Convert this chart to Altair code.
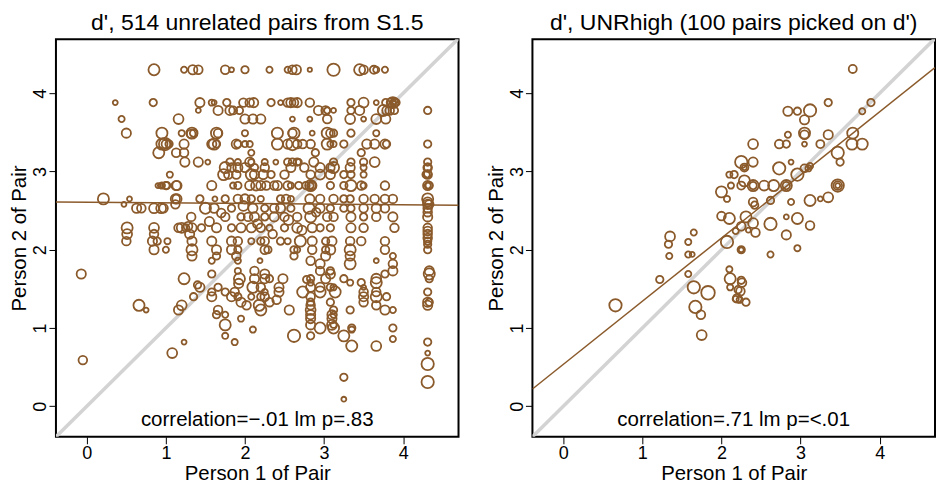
import altair as alt
import pandas as pd

COLOR = "#8B5A2B"
FONT = "Liberation Sans"
X_DOMAIN = [-0.39, 4.70]
Y_DOMAIN = [-0.39, 4.69]
TICKS = [0, 1, 2, 3, 4]
W, H = 403, 398

# ---------------- left panel: 514 unrelated pairs (read row by row) ----------------
LEFT_ROW_Y = [4.30, 3.88, 3.78, 3.67, 3.49, 3.35, 3.24, 3.12, 3.05, 2.96, 2.82, 2.65, 2.58, 2.53,
              2.42, 2.28, 2.20, 2.11, 2.00, 1.92, 1.86, 1.82, 1.73, 1.69, 1.63, 1.58, 1.52, 1.46,
              1.40, 1.33, 1.29, 1.23, 1.17, 1.12, 1.04, 1.00, 0.98, 0.90, 0.86, 0.82, 0.77, 0.68,
              0.59, 0.54, 0.37, 0.31, 0.09]
LEFT_ROW_X = [
    [0.85, 1.23, 1.34, 1.41, 1.75, 1.83, 2.00, 2.31, 2.54, 2.60, 2.65, 2.82, 3.12, 3.45, 3.50, 3.63, 3.66, 3.77],
    [0.36, 0.84, 1.43, 1.58, 1.61, 1.77, 1.98, 2.06, 2.11, 2.33, 2.45, 2.54, 2.58, 2.62, 2.66, 2.82, 3.34, 3.50, 3.66, 3.78, 3.85, 3.87, 3.89, 3.91],
    [1.41, 1.66, 1.81, 1.85, 1.93, 2.93, 3.02, 3.04, 3.12, 3.34, 3.45, 3.75, 3.79, 3.83, 3.89, 4.31],
    [0.44, 1.16, 2.00, 2.10, 2.20, 2.60, 2.82, 3.04, 3.33, 3.50, 3.66, 3.78],
    [0.50, 0.95, 1.20, 1.33, 1.35, 1.64, 1.66, 2.00, 2.41, 2.60, 2.62, 2.85, 3.04, 3.08, 3.12, 3.34, 3.66],
    [0.95, 1.00, 1.04, 1.23, 1.58, 1.61, 1.64, 1.89, 1.91, 2.00, 2.06, 2.41, 2.54, 2.60, 2.66, 2.73, 2.83, 3.04, 3.08, 3.12, 3.25, 3.54, 3.64, 3.77, 3.79, 4.31],
    [0.91, 1.13, 1.23, 2.08, 2.89, 3.47],
    [1.24, 1.41, 1.53, 1.81, 1.91, 2.06, 2.08, 2.25, 2.39, 2.54, 2.60, 2.66, 2.68, 2.87, 3.12, 3.34, 3.50, 3.64, 4.31],
    [1.75, 1.83, 1.91, 2.00, 2.12, 2.25, 2.58, 2.75, 2.95, 3.08, 3.12, 3.33, 3.50, 4.31],
    [1.05, 1.73, 1.79, 1.89, 2.08, 2.12, 2.23, 2.33, 2.50, 2.83, 2.95, 3.08, 3.25, 3.34, 3.50, 4.29, 4.31],
    [0.90, 0.93, 0.95, 1.00, 1.01, 1.13, 1.14, 1.58, 1.85, 1.91, 2.06, 2.14, 2.20, 2.27, 2.37, 2.41, 2.54, 2.58, 2.68, 2.77, 2.83, 2.83, 2.84, 2.85, 3.08, 3.25, 3.34, 3.47, 3.50, 3.77, 4.31, 4.33],
    [0.21, 0.54, 1.12, 1.14, 1.43, 1.62, 1.75, 1.91, 2.00, 2.08, 2.20, 2.45, 2.52, 2.58, 2.82, 2.95, 3.12, 3.25, 3.33, 3.50, 3.64, 3.77, 3.87, 4.31],
    [0.47, 1.12, 4.31, 4.33],
    [0.63, 0.69, 0.85, 0.94, 0.97, 1.50, 1.61, 1.83, 2.10, 2.25, 2.37, 2.45, 2.58, 2.81, 2.95, 3.08, 3.25, 3.34, 3.50, 3.66, 3.77, 4.31],
    [1.32, 1.75, 1.95, 2.04, 2.12, 2.25, 2.37, 2.50, 2.66, 2.83, 3.04, 3.12, 3.34, 3.50, 3.66, 3.87, 4.31],
    [0.51, 0.85, 1.16, 1.20, 1.25, 1.33, 1.45, 1.64, 1.83, 1.95, 2.08, 2.20, 2.31, 2.50, 2.66, 2.85, 2.95, 3.08, 3.34, 3.50, 3.89, 4.31],
    [0.51, 0.85, 1.30, 4.31],
    [0.50, 0.83, 0.89, 1.02, 1.33, 1.58, 1.83, 1.91, 2.08, 2.20, 2.25, 2.45, 2.54, 2.70, 2.85, 3.02, 3.10, 3.33, 3.47, 3.77, 4.31],
    [0.85, 1.00, 1.33, 1.64, 1.83, 1.91, 2.25, 2.29, 2.62, 2.66, 2.85, 3.02, 3.08, 3.33, 3.77, 4.31],
    [1.33, 1.64, 1.89, 2.62, 3.02, 3.33, 3.87],
    [1.58, 1.91, 2.19, 2.83, 3.66],
    [2.95, 3.33, 3.87],
    [1.91, 2.12, 2.95, 3.08, 3.87, 4.33],
    [-0.07, 1.58, 2.25, 3.08, 3.77, 4.33],
    [1.23, 1.93, 2.12, 2.25, 2.31, 2.48, 2.83, 3.02, 3.25, 3.66, 4.33],
    [2.83, 3.33, 3.47, 3.66],
    [1.43, 1.66, 2.10, 2.20, 2.43, 2.83, 2.95, 3.08, 3.12, 3.50],
    [1.58, 1.75, 1.87, 2.25, 2.43, 2.73, 2.95, 3.14, 3.50, 3.66, 4.31],
    [1.35, 1.58, 1.83, 1.91, 2.08, 2.20, 2.25, 2.83, 3.50, 3.66, 3.79],
    [1.95, 2.31, 2.83, 3.08, 3.50, 4.31, 4.33],
    [0.66, 1.20, 2.02, 2.18, 2.83, 3.66, 4.31],
    [0.75, 1.16, 1.66, 2.20, 2.56, 2.83, 3.12, 3.33, 3.77, 3.87],
    [1.64, 1.75, 2.83, 3.10, 3.12],
    [1.95, 2.83, 3.10],
    [1.75, 2.83, 3.10, 3.12],
    [2.95, 3.12, 3.35, 3.87],
    [2.10, 3.35],
    [1.75, 2.62, 2.83, 3.25],
    [3.87],
    [1.23, 1.87, 4.31],
    [3.35, 3.66],
    [1.08, 4.31],
    [-0.05],
    [4.31],
    [3.25],
    [4.31],
    [3.25],
]
LEFT_ROW_W = [
    [18, 10, 15, 14, 14, 8, 12, 10, 10, 14, 15, 7, 20, 18, 14, 13, 10, 10],
    [8, 12, 15, 10, 8, 12, 14, 14, 15, 12, 8, 14, 15, 14, 15, 14, 12, 16, 8, 12, 15, 18, 14, 12],
    [8, 15, 15, 13, 12, 15, 14, 10, 8, 12, 15, 18, 14, 14, 12, 12],
    [10, 16, 15, 15, 15, 8, 8, 14, 16, 8, 16, 15],
    [15, 18, 10, 18, 12, 18, 14, 10, 18, 14, 18, 8, 18, 14, 12, 12, 10],
    [18, 14, 12, 15, 15, 18, 12, 15, 12, 10, 10, 18, 15, 20, 14, 14, 14, 18, 10, 10, 12, 15, 15, 15, 12, 12],
    [18, 14, 14, 10, 12, 12],
    [15, 15, 8, 12, 10, 15, 10, 10, 8, 12, 12, 12, 10, 15, 12, 12, 12, 16, 12],
    [18, 14, 15, 15, 12, 14, 15, 14, 15, 14, 18, 15, 10, 14],
    [10, 18, 14, 14, 18, 15, 15, 12, 14, 14, 16, 15, 12, 12, 10, 12, 14],
    [8, 8, 10, 12, 12, 15, 15, 15, 10, 12, 15, 16, 15, 14, 14, 15, 14, 10, 12, 12, 18, 10, 14, 14, 12, 12, 18, 14, 10, 14, 15, 12],
    [18, 8, 15, 15, 12, 8, 12, 14, 15, 12, 10, 12, 14, 10, 15, 14, 14, 12, 12, 14, 14, 14, 14, 18],
    [8, 14, 15, 14],
    [15, 14, 16, 16, 14, 18, 15, 12, 15, 12, 14, 15, 12, 18, 15, 12, 12, 12, 14, 15, 14, 14],
    [14, 14, 12, 14, 15, 12, 15, 14, 14, 18, 14, 14, 15, 12, 14, 15, 15],
    [18, 16, 14, 16, 12, 15, 12, 15, 12, 15, 15, 14, 10, 12, 16, 15, 12, 12, 15, 14, 14, 14],
    [16, 14, 15, 14],
    [14, 15, 12, 10, 15, 15, 15, 14, 10, 12, 14, 12, 10, 18, 15, 12, 15, 14, 14, 14, 12],
    [15, 10, 18, 15, 15, 12, 14, 12, 12, 10, 14, 12, 16, 18, 14, 12],
    [15, 12, 14, 12, 15, 15, 10],
    [10, 10, 8, 14, 8],
    [15, 18, 14],
    [10, 14, 14, 12, 15, 15],
    [15, 12, 15, 15, 12, 18],
    [18, 18, 15, 15, 12, 15, 12, 15, 12, 16, 12],
    [10, 10, 12, 18],
    [15, 12, 18, 14, 15, 15, 15, 12, 10, 8],
    [12, 12, 14, 10, 15, 18, 18, 18, 14, 14, 12],
    [12, 15, 15, 12, 10, 12, 14, 14, 15, 18, 12],
    [15, 14, 12, 12, 14, 15, 12],
    [18, 16, 14, 18, 14, 14, 15],
    [8, 15, 14, 18, 15, 16, 12, 12, 15, 10],
    [12, 10, 15, 15, 10],
    [10, 15, 15],
    [18, 15, 16, 10],
    [18, 18, 12, 12],
    [10, 10],
    [10, 20, 12, 18],
    [10],
    [8, 10, 12],
    [18, 16],
    [16, 8],
    [14],
    [20],
    [12],
    [20],
    [8],
]
# extra points off the main rows
LEFT_EXTRA_X = [4.31, 4.31, 4.31, 4.31, 4.31, 4.31, 4.31, 4.31, 3.89, 3.88, 1.28, 0.99, 1.32,
                1.55, 1.70, 1.98, 2.16, 2.35, 2.55, 2.72, 2.90, 1.40, 1.92, 2.40, 2.78]
LEFT_EXTRA_Y = [2.48, 2.24, 2.15, 2.07, 2.61, 2.82, 2.97, 3.05, 3.90, 3.87, 2.30, 3.35, 3.48,
                2.36, 2.47, 2.56, 2.33, 2.20, 2.38, 2.25, 2.48, 1.55, 1.57, 1.36, 1.62]
LEFT_EXTRA_W = [14, 14, 14, 12, 15, 10, 12, 12, 10, 8, 14, 20, 14,
                15, 14, 16, 15, 14, 16, 15, 14, 12, 15, 14, 12]

# ---------------- right panel: UNRhigh, 100 pairs ----------------
RIGHT_X = [3.66, 3.35, 3.89, 3.78, 2.84, 2.96, 3.12, 3.05, 3.05, 3.05, 2.84, 3.35, 3.66, 3.05, 2.73,
           2.82, 2.40, 3.25, 3.65, 3.78, 3.47, 3.50, 2.25, 2.40, 2.29, 2.29, 2.88, 2.73, 2.96, 3.05,
           3.12, 3.10, 2.10, 2.16, 2.29, 2.00, 2.07, 2.12, 2.25, 2.40, 2.40, 2.54, 2.66, 2.82, 2.82,
           3.47, 3.47, 3.47, 3.12, 3.35, 3.25, 2.88, 2.40, 2.42, 2.62, 2.00, 2.10, 2.31, 2.25, 2.40,
           2.43, 2.34, 2.18, 2.07, 2.25, 2.25, 2.62, 2.82, 2.82, 2.96, 3.12, 2.96, 2.62, 1.35, 1.33,
           1.65, 1.58, 1.34, 1.58, 1.63, 1.58, 1.22, 0.66, 1.65, 1.83, 1.67, 1.74, 1.75, 2.10, 2.11,
           2.25, 2.26, 2.11, 2.21, 2.24, 2.20, 2.23, 2.31, 2.18]
RIGHT_Y = [4.31, 3.88, 3.88, 3.77, 3.77, 3.77, 3.78, 3.66, 3.49, 3.47, 3.47, 3.47, 3.49, 3.35, 3.35,
           3.35, 3.35, 3.35, 3.35, 3.35, 3.24, 3.12, 3.12, 3.12, 3.05, 3.05, 3.12, 3.04, 2.96, 3.04,
           3.07, 3.04, 2.96, 2.96, 2.88, 2.74, 2.65, 2.82, 2.82, 2.82, 2.82, 2.82, 2.82, 2.82, 2.82,
           2.82, 2.82, 2.82, 2.63, 2.67, 2.65, 2.61, 2.61, 2.57, 2.63, 2.43, 2.40, 2.42, 2.30, 2.34,
           2.22, 2.25, 2.24, 2.10, 2.00, 2.00, 2.33, 2.19, 2.42, 2.40, 2.31, 2.02, 1.94, 2.17, 2.07,
           2.22, 2.10, 1.92, 1.94, 1.94, 1.69, 1.62, 1.29, 1.52, 1.45, 1.27, 1.17, 0.91, 1.75, 1.63,
           1.61, 1.58, 1.52, 1.49, 1.47, 1.38, 1.36, 1.33, 1.37]
RIGHT_W = [13, 12, 12, 10, 15, 12, 20, 15, 18, 14, 10, 15, 18, 8, 14,
           12, 16, 13, 18, 18, 20, 12, 20, 15, 13, 8, 8, 20, 20, 13,
           10, 10, 10, 12, 18, 18, 10, 10, 13, 18, 12, 16, 18, 18, 12,
           20, 14, 8, 18, 16, 8, 10, 14, 12, 12, 14, 18, 18, 14, 16,
           14, 8, 10, 20, 12, 8, 20, 15, 8, 18, 14, 10, 10, 16, 12,
           10, 10, 10, 10, 8, 10, 12, 20, 20, 22, 20, 14, 16, 10, 18,
           12, 14, 10, 12, 14, 14, 10, 12, 10]

# fitted regression lines (intercept, slope)
LEFT_FIT = (2.607, -0.008)
RIGHT_FIT = (0.535, 0.807)

LEFT_TITLE = "d', 514 unrelated pairs from S1.5"
RIGHT_TITLE = "d', UNRhigh (100 pairs picked on d')"
LEFT_NOTE = "correlation=\u2212.01 lm p=.83"
RIGHT_NOTE = "correlation=.71 lm p=<.01"

# ---------------- build tables ----------------
lx, ly, lw = [], [], []
for yv, xs, ws in zip(LEFT_ROW_Y, LEFT_ROW_X, LEFT_ROW_W):
    for xv, wv in zip(xs, ws):
        lx.append(xv); ly.append(yv); lw.append(wv)
lx += LEFT_EXTRA_X; ly += LEFT_EXTRA_Y; lw += LEFT_EXTRA_W
left_df = pd.DataFrame({"x": lx, "y": ly, "w": lw})
right_df = pd.DataFrame({"x": RIGHT_X, "y": RIGHT_Y, "w": RIGHT_W})


def panel(df, title, note, fit):
    xenc = alt.X("x:Q", scale=alt.Scale(domain=X_DOMAIN, nice=False, zero=False),
                 axis=alt.Axis(values=TICKS, title="Person 1 of Pair", format="d"))
    yenc = alt.Y("y:Q", scale=alt.Scale(domain=Y_DOMAIN, nice=False, zero=False),
                 axis=alt.Axis(values=TICKS, title="Person 2 of Pair", format="d",
                               labelAngle=270, labelAlign="center", labelBaseline="alphabetic",
                               labelPadding=3, titlePadding=2))
    diag_df = pd.DataFrame({"x": X_DOMAIN, "y": X_DOMAIN})
    diag = alt.Chart(diag_df).mark_line(color="#D3D3D3", strokeWidth=3.5, clip=True).encode(x=xenc, y=yenc)
    b0, b1 = fit
    fit_df = pd.DataFrame({"x": X_DOMAIN, "y": [b0 + b1 * v for v in X_DOMAIN]})
    fitline = alt.Chart(fit_df).mark_line(color=COLOR, strokeWidth=1.5, clip=True).encode(x=xenc, y=yenc)
    pts = alt.Chart(df).mark_point(shape="circle", filled=False, color=COLOR, strokeWidth=1.8,
                                   opacity=1, clip=True).encode(
        x=xenc, y=yenc,
        size=alt.Size("w:Q", scale=alt.Scale(type="pow", exponent=2, domain=[0, 22], range=[0, 185]),
                      legend=None))
    txt = alt.Chart(pd.DataFrame({"t": [note]})).mark_text(
        font=FONT, fontSize=20.5, color="black", baseline="middle", align="center").encode(
        text="t:N", x=alt.value(W / 2), y=alt.value(H - 17))
    return alt.layer(diag, pts, fitline, txt).properties(width=W, height=H, title=title)


chart = alt.hconcat(
    panel(left_df, LEFT_TITLE, LEFT_NOTE, LEFT_FIT),
    panel(right_df, RIGHT_TITLE, RIGHT_NOTE, RIGHT_FIT),
    spacing=25,
    padding={"left": 0, "top": 3, "right": 0, "bottom": 0},
).configure_view(stroke="black", strokeWidth=2).configure_axis(
    domain=False, grid=False, ticks=True, tickSize=7, tickColor="black", tickWidth=1,
    labelFont=FONT, labelFontSize=18, labelColor="black", labelPadding=1,
    titleFont=FONT, titleFontSize=20.4, titleColor="black", titleFontWeight="normal",
).configure_axisX(titlePadding=1).configure_title(
    font=FONT, fontSize=23, fontWeight="normal", color="black", anchor="middle", offset=4
)

chart.save("out.html", embed_options={"renderer": "svg", "actions": False})
